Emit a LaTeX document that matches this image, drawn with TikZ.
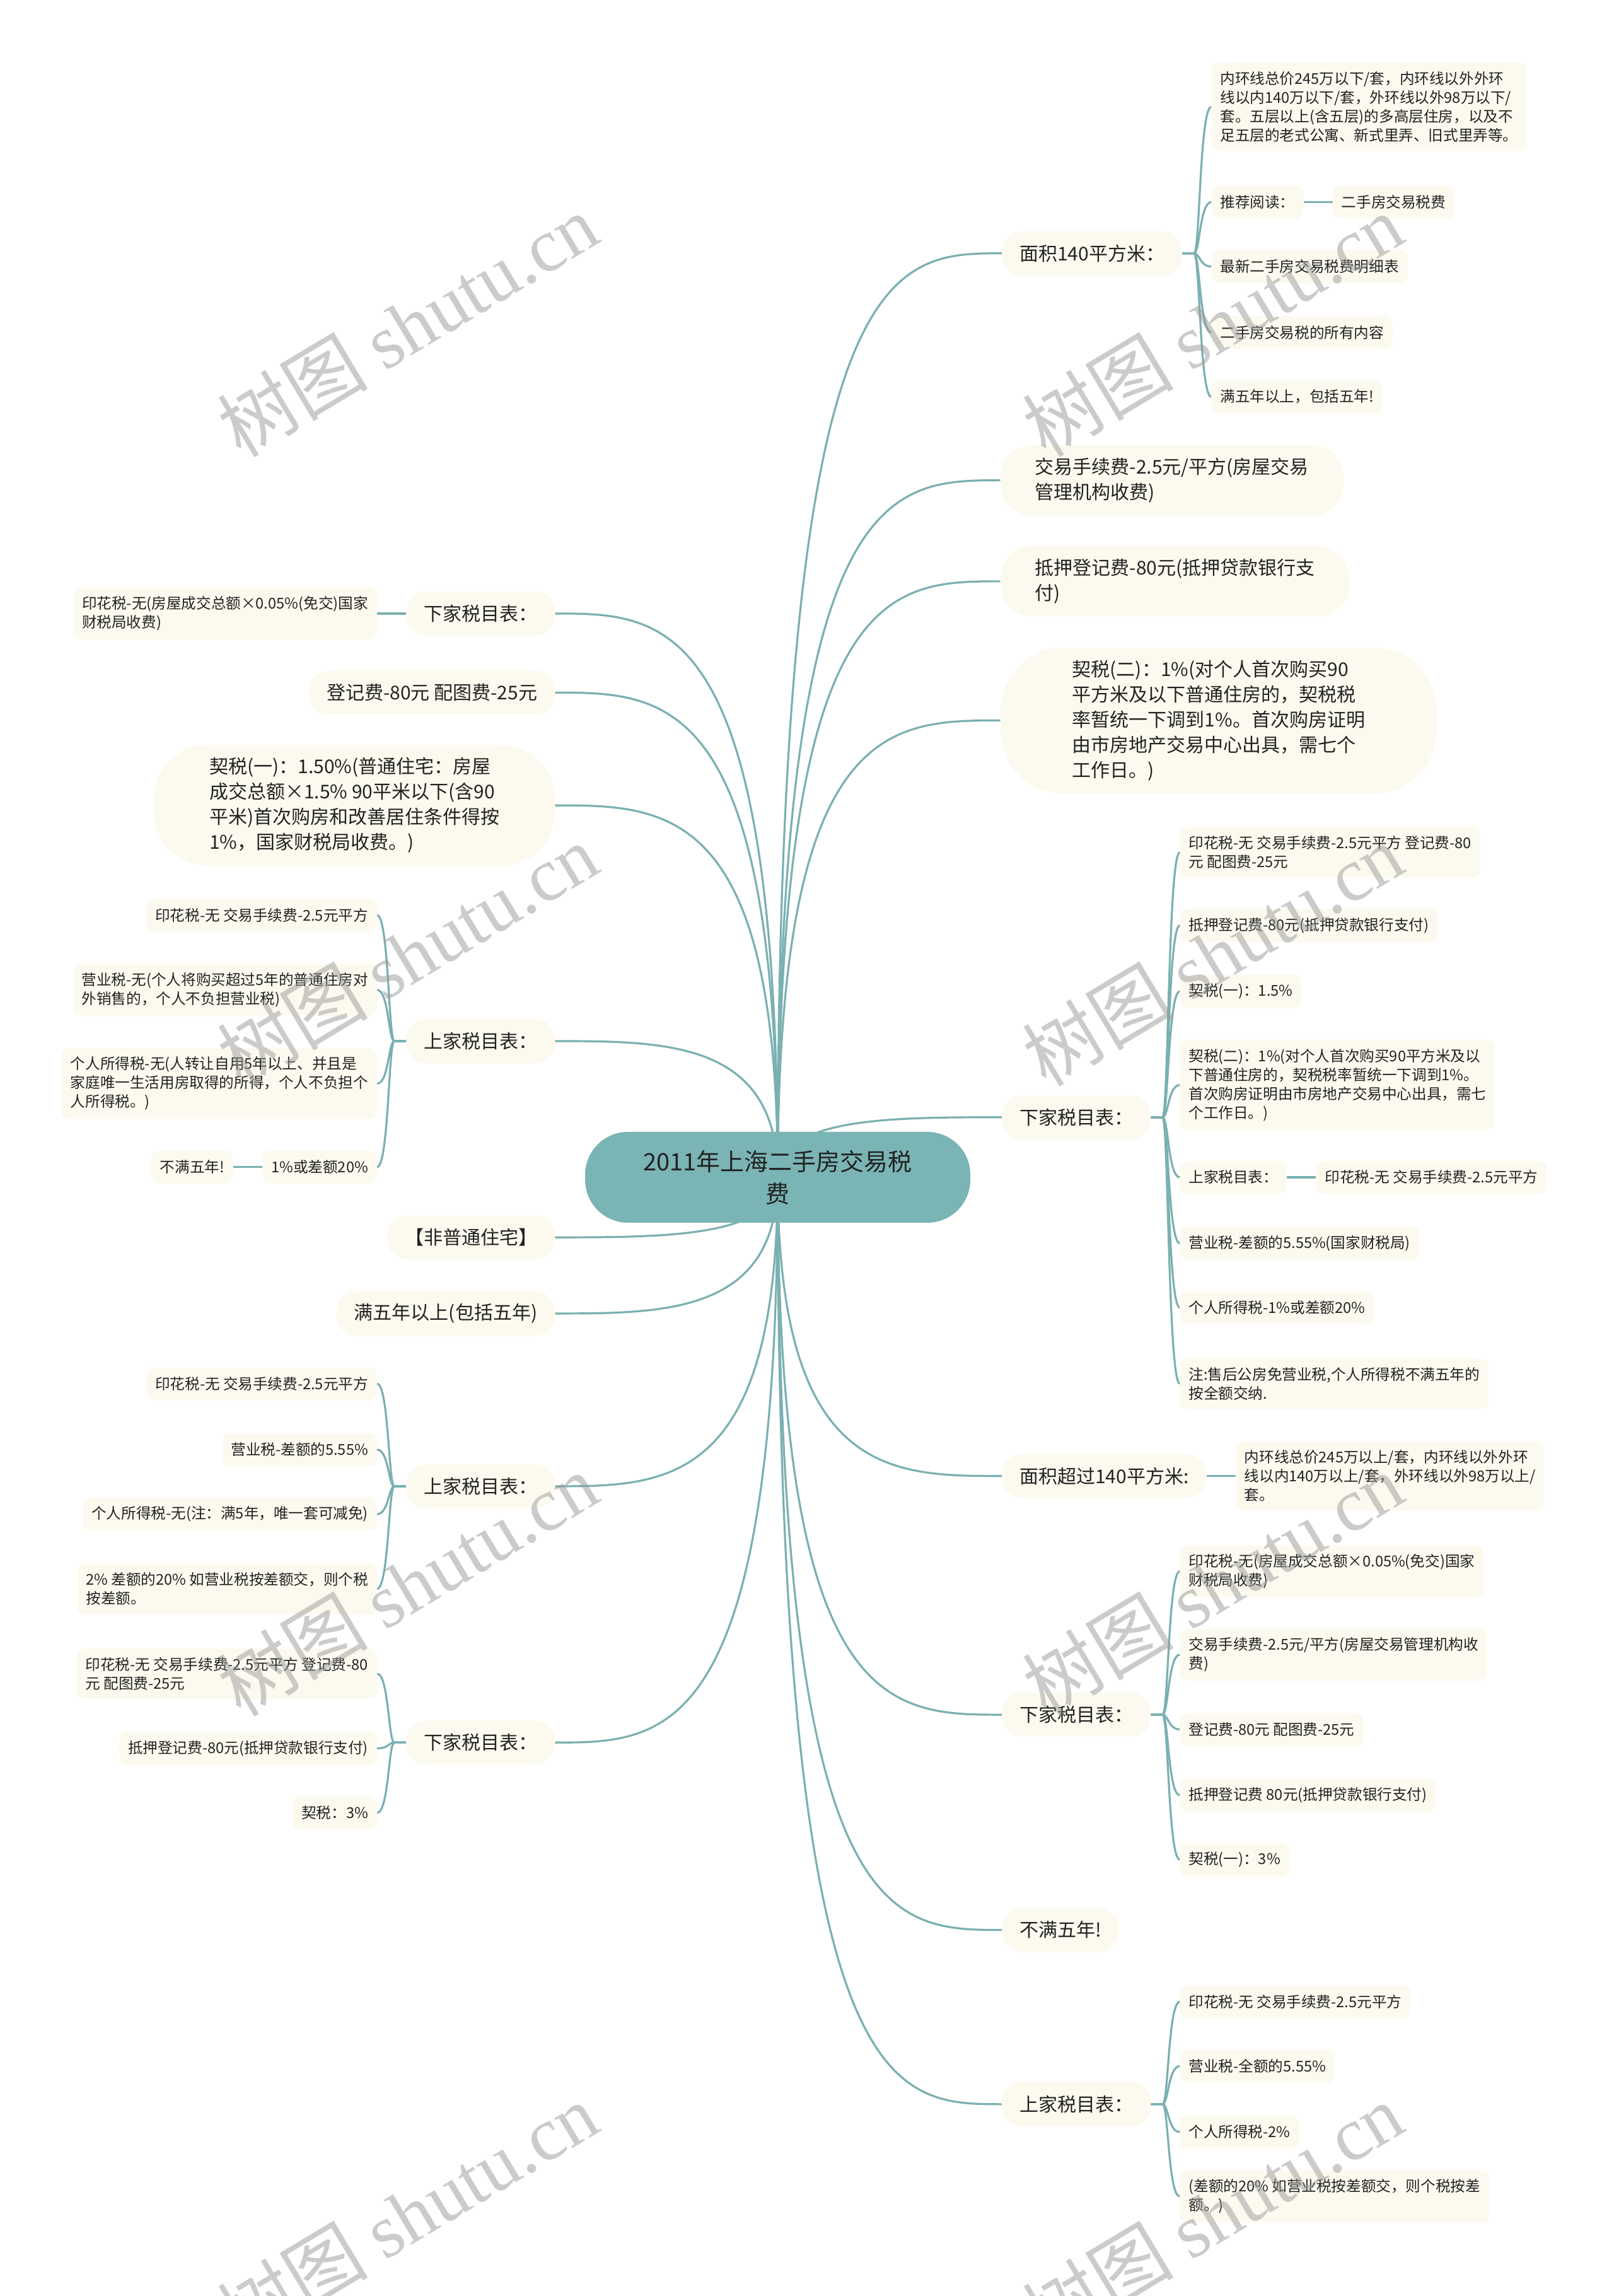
\documentclass[tikz,border=0pt]{standalone}
\usepackage{fontspec}
\setmainfont{Noto Sans CJK SC}
\newfontfamily\wmfont{Liberation Serif}
\usetikzlibrary{calc,backgrounds}

\definecolor{rootc}{HTML}{7AB4B5}
\definecolor{linkc}{HTML}{7AB0B1}
\definecolor{nodec}{HTML}{FCFAEF}
\definecolor{textc}{HTML}{222222}

% root to main topic
\newcommand{\rootlinkR}[1]{\draw[conn] (root.center) .. controls (root.center |- #1.west)
  and ($(root.center |- #1.west)!0.5!(#1.west)$) .. (#1.west);}
\newcommand{\rootlinkL}[1]{\draw[conn] (root.center) .. controls (root.center |- #1.east)
  and ($(root.center |- #1.east)!0.5!(#1.east)$) .. (#1.east);}
% topic to sub topic
\newcommand{\kidR}[2]{\draw[conn] (#1.east) -- ++(8,0) .. controls +(4,0) and +(-8,0) .. (#2.west);}
\newcommand{\kidL}[2]{\draw[conn] (#1.west) -- ++(-8,0) .. controls +(-4,0) and +(8,0) .. (#2.east);}

\begin{document}
\begin{tikzpicture}[x=2.32305pt, y=-2.32207pt,
  conn/.style={draw=linkc, line width=3.2pt},
  root/.style={fill=rootc, rounded corners=68pt, minimum width=611pt, minimum height=144pt,
    align=center, text=textc, font=\fontsize{38}{51}\selectfont},
  topic/.style={fill=nodec, rounded corners=32pt, inner xsep=28pt, inner ysep=20pt,
    minimum height=70pt, align=left, text=textc, font=\fontsize{30}{40}\selectfont},
  wide/.style={inner xsep=55pt, rounded corners=50pt},
  leaf/.style={fill=nodec, rounded corners=12pt, inner xsep=14pt, inner ysep=14pt,
    minimum height=52pt, align=left, text=textc, font=\fontsize{23.6}{30}\selectfont},
  wmark/.style={text=black!40, opacity=0.5, rotate=31, font=\fontsize{120}{120}\selectfont},
]
\useasboundingbox (0,0) rectangle (1102,1568);

\node[root] (root) at (531,804) {2011年上海二手房交易税\\费};

% right side
\node[topic, anchor=west] (R1) at (684,173) {面积140平方米：};
\node[topic, wide, anchor=west] (R2) at (683,328) {交易手续费-2.5元/平方(房屋交易\\管理机构收费)};
\node[topic, wide, anchor=west] (R3) at (683,397) {抵押登记费-80元(抵押贷款银行支\\付)};
\node[topic, anchor=west, inner xsep=114pt, rounded corners=100pt] (R4) at (683,492) {契税(二)：1\%(对个人首次购买90\\平方米及以下普通住房的，契税税\\率暂统一下调到1\%。首次购房证明\\由市房地产交易中心出具，需七个\\工作日。)};
\node[topic, anchor=west] (R5) at (684,763) {下家税目表：};
\node[topic, anchor=west] (R6) at (684,1008) {面积超过140平方米:};
\node[topic, anchor=west] (R7) at (684,1171) {下家税目表：};
\node[topic, anchor=west] (R8) at (684,1318) {不满五年!};
\node[topic, anchor=west] (R9) at (684,1437) {上家税目表：};

\node[leaf, anchor=west, xshift=46pt] (R1a) at (R1.east |- 0,73) {内环线总价245万以下/套，内环线以外外环\\线以内140万以下/套，外环线以外98万以下/\\套。五层以上(含五层)的多高层住房，以及不\\足五层的老式公寓、新式里弄、旧式里弄等。};
\node[leaf, anchor=west, xshift=46pt] (R1b) at (R1.east |- 0,138) {推荐阅读：};
\node[leaf, anchor=west, xshift=46pt] (R1b1) at (R1b.east) {二手房交易税费};
\node[leaf, anchor=west, xshift=46pt] (R1c) at (R1.east |- 0,182) {最新二手房交易税费明细表};
\node[leaf, anchor=west, xshift=46pt] (R1d) at (R1.east |- 0,227) {二手房交易税的所有内容};
\node[leaf, anchor=west, xshift=46pt] (R1e) at (R1.east |- 0,271) {满五年以上，包括五年!};

\node[leaf, anchor=west, xshift=46pt] (R5a) at (R5.east |- 0,582) {印花税-无 交易手续费-2.5元平方 登记费-80\\元 配图费-25元};
\node[leaf, anchor=west, xshift=46pt] (R5b) at (R5.east |- 0,632) {抵押登记费-80元(抵押贷款银行支付)};
\node[leaf, anchor=west, xshift=46pt] (R5c) at (R5.east |- 0,677) {契税(一)：1.5\%};
\node[leaf, anchor=west, xshift=46pt] (R5d) at (R5.east |- 0,741) {契税(二)：1\%(对个人首次购买90平方米及以\\下普通住房的，契税税率暂统一下调到1\%。\\首次购房证明由市房地产交易中心出具，需七\\个工作日。)};
\node[leaf, anchor=west, xshift=46pt] (R5e) at (R5.east |- 0,804) {上家税目表：};
\node[leaf, anchor=west, xshift=46pt] (R5e1) at (R5e.east) {印花税-无 交易手续费-2.5元平方};
\node[leaf, anchor=west, xshift=46pt] (R5f) at (R5.east |- 0,849) {营业税-差额的5.55\%(国家财税局)};
\node[leaf, anchor=west, xshift=46pt] (R5g) at (R5.east |- 0,893) {个人所得税-1\%或差额20\%};
\node[leaf, anchor=west, xshift=46pt] (R5h) at (R5.east |- 0,945) {注:售后公房免营业税,个人所得税不满五年的\\按全额交纳.};

\node[leaf, anchor=west, xshift=46pt] (R6a) at (R6.east) {内环线总价245万以上/套，内环线以外外环\\线以内140万以上/套，外环线以外98万以上/\\套。};

\node[leaf, anchor=west, xshift=46pt] (R7a) at (R7.east |- 0,1073) {印花税-无(房屋成交总额×0.05\%(免交)国家\\财税局收费)};
\node[leaf, anchor=west, xshift=46pt] (R7b) at (R7.east |- 0,1130) {交易手续费-2.5元/平方(房屋交易管理机构收\\费)};
\node[leaf, anchor=west, xshift=46pt] (R7c) at (R7.east |- 0,1181) {登记费-80元 配图费-25元};
\node[leaf, anchor=west, xshift=46pt] (R7d) at (R7.east |- 0,1226) {抵押登记费 80元(抵押贷款银行支付)};
\node[leaf, anchor=west, xshift=46pt] (R7e) at (R7.east |- 0,1270) {契税(一)：3\%};

\node[leaf, anchor=west, xshift=46pt] (R9a) at (R9.east |- 0,1367) {印花税-无 交易手续费-2.5元平方};
\node[leaf, anchor=west, xshift=46pt] (R9b) at (R9.east |- 0,1411) {营业税-全额的5.55\%};
\node[leaf, anchor=west, xshift=46pt] (R9c) at (R9.east |- 0,1456) {个人所得税-2\%};
\node[leaf, anchor=west, xshift=46pt] (R9d) at (R9.east |- 0,1500) {(差额的20\% 如营业税按差额交，则个税按差\\额。)};

% left side
\node[topic, anchor=east] (L1) at (379,419) {下家税目表：};
\node[topic, anchor=east] (L2) at (379,473) {登记费-80元 配图费-25元};
\node[topic, anchor=east, inner xsep=88pt, rounded corners=85pt] (L3) at (379,550) {契税(一)：1.50\%(普通住宅：房屋\\成交总额×1.5\% 90平米以下(含90\\平米)首次购房和改善居住条件得按\\1\%，国家财税局收费。)};
\node[topic, anchor=east] (L4) at (379,711) {上家税目表：};
\node[topic, anchor=east] (L5) at (379,845) {【非普通住宅】};
\node[topic, anchor=east] (L6) at (379,897) {满五年以上(包括五年)};
\node[topic, anchor=east] (L7) at (379,1015) {上家税目表：};
\node[topic, anchor=east] (L8) at (379,1190) {下家税目表：};

\node[leaf, anchor=east, xshift=-46pt] (L1a) at (L1.west) {印花税-无(房屋成交总额×0.05\%(免交)国家\\财税局收费)};

\node[leaf, anchor=east, xshift=-46pt] (L4a) at (L4.west |- 0,625) {印花税-无 交易手续费-2.5元平方};
\node[leaf, anchor=east, xshift=-46pt] (L4b) at (L4.west |- 0,676) {营业税-无(个人将购买超过5年的普通住房对\\外销售的，个人不负担营业税)};
\node[leaf, anchor=east, xshift=-46pt] (L4c) at (L4.west |- 0,740) {个人所得税-无(人转让自用5年以上、并且是\\家庭唯一生活用房取得的所得，个人不负担个\\人所得税。)};
\node[leaf, anchor=east, xshift=-46pt] (L4d) at (L4.west |- 0,797) {1\%或差额20\%};
\node[leaf, anchor=east, xshift=-46pt] (L4d1) at (L4d.west) {不满五年!};

\node[leaf, anchor=east, xshift=-46pt] (L7a) at (L7.west |- 0,945) {印花税-无 交易手续费-2.5元平方};
\node[leaf, anchor=east, xshift=-46pt] (L7b) at (L7.west |- 0,990) {营业税-差额的5.55\%};
\node[leaf, anchor=east, xshift=-46pt] (L7c) at (L7.west |- 0,1034) {个人所得税-无(注：满5年，唯一套可减免)};
\node[leaf, anchor=east, xshift=-46pt] (L7d) at (L7.west |- 0,1085) {2\% 差额的20\% 如营业税按差额交，则个税\\按差额。};

\node[leaf, anchor=east, xshift=-46pt] (L8a) at (L8.west |- 0,1143) {印花税-无 交易手续费-2.5元平方 登记费-80\\元 配图费-25元};
\node[leaf, anchor=east, xshift=-46pt] (L8b) at (L8.west |- 0,1194) {抵押登记费-80元(抵押贷款银行支付)};
\node[leaf, anchor=east, xshift=-46pt] (L8c) at (L8.west |- 0,1238) {契税：3\%};

% connectors behind the boxes
\begin{scope}[on background layer]
  \fill[white] (0,0) rectangle (1102,1568);
  \foreach \n in {R1,R2,R3,R4,R5,R6,R7,R8,R9} {\rootlinkR{\n}}
  \foreach \n in {L1,L2,L3,L4,L5,L6,L7,L8} {\rootlinkL{\n}}
  \foreach \k in {a,b,c,d,e} {\kidR{R1}{R1\k}}
  \foreach \k in {a,b,c,d,e,f,g,h} {\kidR{R5}{R5\k}}
  \foreach \k in {a,b,c,d,e} {\kidR{R7}{R7\k}}
  \foreach \k in {a,b,c,d} {\kidR{R9}{R9\k}}
  \foreach \k in {a,b,c,d} {\kidL{L4}{L4\k}}
  \foreach \k in {a,b,c,d} {\kidL{L7}{L7\k}}
  \foreach \k in {a,b,c} {\kidL{L8}{L8\k}}
  \draw[conn] (R6.east) -- (R6a.west);
  \draw[conn] (L1.west) -- (L1a.east);
  \draw[conn] (R1b.east) -- (R1b1.west);
  \draw[conn] (R5e.east) -- (R5e1.west);
  \draw[conn] (L4d.west) -- (L4d1.east);
\end{scope}

% watermarks
\node[wmark] (wm1) at (278,222) {树图 {\wmfont shutu.cn}};
\node[wmark] (wm2) at (828,222) {树图 {\wmfont shutu.cn}};
\node[wmark] (wm3) at (278,652) {树图 {\wmfont shutu.cn}};
\node[wmark] (wm4) at (828,652) {树图 {\wmfont shutu.cn}};
\node[wmark] (wm5) at (278,1082) {树图 {\wmfont shutu.cn}};
\node[wmark] (wm6) at (828,1082) {树图 {\wmfont shutu.cn}};
\node[wmark] (wm7) at (278,1512) {树图 {\wmfont shutu.cn}};
\node[wmark] (wm8) at (828,1512) {树图 {\wmfont shutu.cn}};
\end{tikzpicture}
\end{document}
